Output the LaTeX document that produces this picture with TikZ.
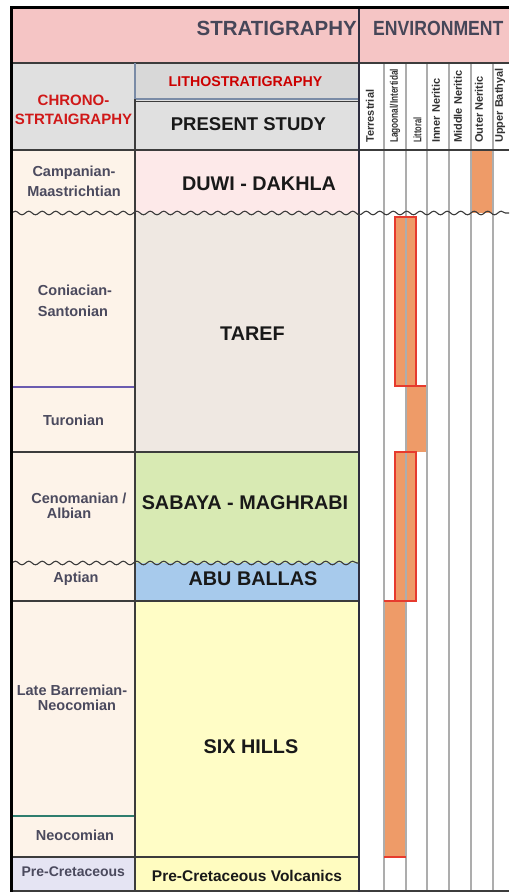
\documentclass[tikz,border=0pt]{standalone}
\usepackage{fontspec}
\setmainfont{Liberation Sans}
\usepackage{tikz}
\usetikzlibrary{positioning,decorations.pathmorphing}
\definecolor{hdrpink}{HTML}{F5C5C5}
\definecolor{hdrgrey}{HTML}{E0E0E0}
\definecolor{lithogrey}{HTML}{D8D8D8}
\definecolor{chrofill}{HTML}{FDF3E9}
\definecolor{prefill}{HTML}{E5E4F3}
\definecolor{duwifill}{HTML}{FDE9E9}
\definecolor{tareffill}{HTML}{EFE8E2}
\definecolor{sabfill}{HTML}{D8EAB3}
\definecolor{abufill}{HTML}{A7CAEC}
\definecolor{sixfill}{HTML}{FFFDC6}
\definecolor{volcfill}{HTML}{FFFCC0}
\definecolor{barfill}{HTML}{EE9B68}
\definecolor{barline}{HTML}{E63B2E}
\definecolor{chrotext}{HTML}{4B4A5E}
\definecolor{hdrtext}{HTML}{464658}
\definecolor{redtext}{HTML}{D01818}
\definecolor{cellline}{HTML}{3C3C3C}
\definecolor{navyline}{HTML}{2E2E40}
\definecolor{envline}{HTML}{ADADAD}
\definecolor{bluegrey}{HTML}{7A8BA6}
\definecolor{purpleline}{HTML}{6B5BB0}
\definecolor{tealline}{HTML}{2E7D6E}

\begin{document}
\begin{tikzpicture}[
x=1pt,y=-1pt,
CellLine/.style={draw=cellline,line width=1.2pt},
Wavy/.style={draw=cellline,line width=1.1pt,decorate,
  decoration={snake,segment length=13.5pt,amplitude=1.8pt}},
EnvGrid/.style={draw=envline,line width=1.5pt},
BarFill/.style={fill=barfill},
BarFrame/.style={draw=barline,line width=1.2pt},
HdrLab/.style={inner sep=0pt,text=hdrtext,font=\bfseries\fontsize{20.5}{24}\selectfont},
RedLab/.style={anchor=base,inner sep=0pt,text=redtext,font=\bfseries\fontsize{15}{18}\selectfont},
ChroLab/.style={anchor=base,inner sep=0pt,text=chrotext,font=\bfseries\fontsize{14.5}{17}\selectfont},
LithoLab/.style={anchor=base,inner sep=0pt,text=black!90,font=\bfseries\fontsize{19.8}{23}\selectfont},
EnvLab/.style={rotate=90,anchor=west,inner sep=0pt,text=black!80,font=\bfseries\fontsize{11}{12}\selectfont}
]
\useasboundingbox (0,0) rectangle (509,892);
\clip (0,0) rectangle (509,892);

% header band
\fill[hdrpink] (11,8) rectangle (509,63);
\fill[hdrgrey] (11,63) rectangle (135,150);
\fill[hdrgrey] (135,99) rectangle (359,150);
\path[draw=bluegrey,line width=1.2pt,fill=lithogrey] (135,63) rectangle (359,99);
\fill[white] (359,63) rectangle (509,892);

% chrono and litho cells
\fill[chrofill] (11,150) rectangle (135,857);
\fill[prefill] (11,857) rectangle (135,892);
\fill[duwifill] (135,150) rectangle (359,213);
\fill[tareffill] (135,213) rectangle (359,452);
\fill[sabfill] (135,452) rectangle (359,563);
\fill[abufill] (135,563) rectangle (359,601);
\fill[sixfill] (135,601) rectangle (359,857);
\fill[volcfill] (135,857) rectangle (359,892);

% environment ranges
\fill[BarFill] (471,150) rectangle (493,213);
\fill[BarFill] (395,217) rectangle (416,386);
\fill[BarFill] (406,386) rectangle (426,452);
\fill[BarFill] (395,452) rectangle (416,601);
\fill[BarFill] (384,601) rectangle (406,857);

\foreach \xe in {384,406,427,449,471,493}
  \draw[EnvGrid] (\xe,63) -- (\xe,892);

\draw[BarFrame] (395,217) rectangle (416,386);
\draw[BarFrame] (416,386) -- (426,386);
\draw[BarFrame] (395,452) rectangle (416,601);
\draw[BarFrame] (384,601) -- (395,601);
\draw[BarFrame] (384,857) -- (406,857);

% table lines
\draw[CellLine] (11,63) -- (509,63);
\draw[CellLine] (135,101.5) -- (359,101.5);
\draw[CellLine] (11,150) -- (509,150);
\draw[draw=purpleline,line width=1.2pt] (11,387) -- (135,387);
\draw[CellLine] (11,452) -- (359,452);
\draw[CellLine] (11,601) -- (359,601);
\draw[draw=tealline,line width=1.2pt] (11,816) -- (135,816);
\draw[CellLine] (11,857) -- (359,857);
\draw[CellLine] (11,891) -- (509,891);
\draw[CellLine] (135,99) -- (135,892);
\draw[draw=bluegrey,line width=1.2pt] (135,63) -- (135,99);
\draw[draw=navyline,line width=2.2pt] (359,8) -- (359,892);
\draw[Wavy] (11,213) -- (509,213);
\draw[Wavy] (11,563) -- (359,563);

% headings
\node[HdrLab,anchor=base east] (strathdr) at (357,35) {STRATIGRAPHY};
\node[HdrLab,anchor=base west] (envhdr) at (373,35) {\scalebox{0.86}[1]{ENVIRONMENT}};
\node[RedLab] (chrohdra) at (73.5,105) {CHRONO-};
\node[RedLab] (chrohdrb) at (73.5,124) {STRTAIGRAPHY};
\node[RedLab,text=red!80!black,font=\bfseries\fontsize{14.2}{17}\selectfont] (lithohdr) at (245.5,86) {LITHOSTRATIGRAPHY};
\node[LithoLab,font=\bfseries\fontsize{18.5}{22}\selectfont] (studyhdr) at (248.5,130) {PRESENT STUDY};

% environment heads
\node[EnvLab] (terr) at (370,143) {Terrestrial};
\node[EnvLab] (lagoon) at (395,143) {\scalebox{0.75}[1]{Lagoonal/Intertidal}};
\node[EnvLab] (litt) at (417.5,143) {\scalebox{0.68}[1]{Littoral}};
\node[EnvLab] (inner) at (436,143) {Inner Neritic};
\node[EnvLab] (middle) at (458,143) {Middle Neritic};
\node[EnvLab] (outer) at (479,143) {Outer Neritic};
\node[EnvLab] (upper) at (500,143) {Upper Bathyal};

% chronostratigraphy
\node[ChroLab] (campa) at (74,176.7) {Campanian-};
\node[ChroLab] (campb) at (74,196.7) {Maastrichtian};
\node[ChroLab] (conia) at (75,295) {Coniacian-};
\node[ChroLab] (conib) at (73,316.7) {Santonian};
\node[ChroLab] (turon) at (73.5,425) {Turonian};
\node[ChroLab] (cenoa) at (79,503) {Cenomanian /};
\node[ChroLab] (cenob) at (69,518) {Albian};
\node[ChroLab] (aptian) at (76,582.7) {Aptian};
\node[ChroLab] (barra) at (72,695) {Late Barremian-};
\node[ChroLab] (barrb) at (77,710) {Neocomian};
\node[ChroLab] (neoc) at (75,840) {Neocomian};
\node[ChroLab,font=\bfseries\fontsize{14}{17}\selectfont] (precr) at (73.3,876) {Pre-Cretaceous};

% lithostratigraphy
\node[LithoLab] (duwi) at (259,190) {DUWI - DAKHLA};
\node[LithoLab] (taref) at (252.5,340.7) {TAREF};
\node[LithoLab] (sabaya) at (245,509) {SABAYA - MAGHRABI};
\node[LithoLab] (abu) at (253,585.7) {ABU BALLAS};
\node[LithoLab] (six) at (251,753) {SIX HILLS};
\node[LithoLab,font=\bfseries\fontsize{15.5}{18}\selectfont] (volc) at (247,881.7) {Pre-Cretaceous Volcanics};

% outer frame
\draw[black,line width=3pt] (11,892) -- (11,7.7) -- (509,7.7);
\end{tikzpicture}
\end{document}
